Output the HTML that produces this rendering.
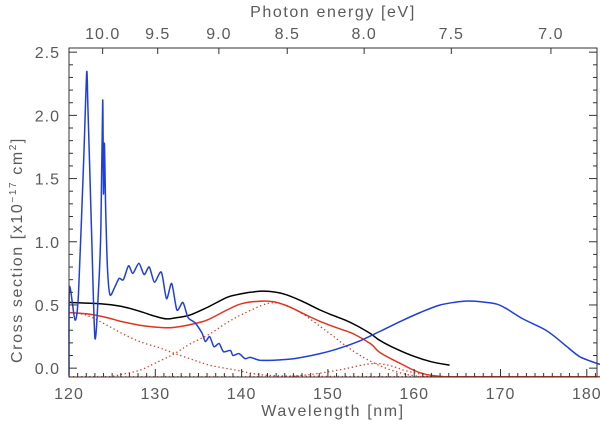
<!DOCTYPE html>
<html><head><meta charset="utf-8"><style>
html,body{margin:0;padding:0;background:#fff;}
svg text{font-family:"Liberation Sans",sans-serif;fill:#5a5a5a;}
</style></head><body>
<svg id="chart" width="600" height="431" viewBox="0 0 600 431" xmlns="http://www.w3.org/2000/svg">
<rect x="0" y="0" width="600" height="431" fill="#fff"/>
<g id="marks"></g>
<g id="axes"></g>
<text x="333" y="17" font-size="16" text-anchor="middle" letter-spacing="1.6">Photon energy [eV]</text>
<text x="333" y="416" font-size="16" text-anchor="middle" letter-spacing="1.6">Wavelength [nm]</text>
<text transform="translate(22,250) rotate(-90)" font-size="16" text-anchor="middle" letter-spacing="1.6">Cross section [x10<tspan dy="-6" font-size="10">−17</tspan><tspan dy="6"> cm</tspan><tspan dy="-6" font-size="10">2</tspan><tspan dy="6">]</tspan></text>
</svg>
<script>
const xTicks=[120,130,140,150,160,170,180];
const yTicks=[0.0,0.5,1.0,1.5,2.0,2.5];
const eTicks=[10.0,9.5,9.0,8.5,8.0,7.5,7.0];
const blackX=[120,123.6,126,128.2,130,131.3,132.5,134,136,138.3,139.4,141,142.5,144,145.2,147,149.1,150.5,152,153.5,155,156,158,159.9,162,164.1];
const blackY=[0.52,0.51,0.49,0.45,0.41,0.39,0.40,0.42,0.48,0.56,0.58,0.60,0.61,0.60,0.58,0.53,0.46,0.42,0.38,0.33,0.27,0.22,0.15,0.095,0.05,0.024];
const redX=[120,122,124.4,126,128.2,130,131.7,133,134.4,136,138.3,140,142.1,143.7,145,146,147.5,149.1,151,153,155,156,158.4,160.7,163,166,182];
const redY=[0.44,0.43,0.40,0.37,0.34,0.325,0.32,0.33,0.35,0.38,0.46,0.51,0.53,0.525,0.50,0.47,0.42,0.37,0.32,0.27,0.19,0.125,0.037,-0.037,-0.065,-0.068,-0.068];
const dot1X=[120,122,124.4,126,128.2,130.5,132.1,134.4,136.5,139.4,141.5,144,150,160,182];
const dot1Y=[0.44,0.42,0.34,0.28,0.21,0.16,0.12,0.065,0.02,-0.016,-0.045,-0.06,-0.065,-0.068,-0.068];
const dot2X=[120,124.4,126,128.2,130,132.1,134,136.3,138.3,140.2,142.9,144.5,146,147.5,149.1,150.5,152,154,156,158,160,163,182];
const dot2Y=[-0.068,-0.068,-0.05,-0.016,0.04,0.11,0.19,0.27,0.36,0.43,0.51,0.51,0.47,0.41,0.33,0.26,0.18,0.09,0.02,-0.03,-0.06,-0.068,-0.068];
const dot3X=[120,144,146,148,150,152,154,155,156,157.5,159,161,163,182];
const dot3Y=[-0.068,-0.068,-0.062,-0.05,-0.03,-0.005,0.025,0.035,0.035,0.015,-0.02,-0.05,-0.066,-0.068];
const blueX=[120,120.05,120.7,121.1,121.7,122.05,122.2,122.6,123.0,123.4,123.7,123.9,124.0,124.1,124.25,124.45,124.75,125.3,125.8,126.3,126.9,127.4,128.1,128.7,129.3,129.9,130.7,131.3,131.9,132.5,133.2,133.8,134.6,135.4,135.8,136.3,136.8,137.4,137.9,138.7,139.0,139.7,140.4,141.0,142.1,143.7,146.0,149.1,151,153.5,156.0,158.4,160.7,163.0,165.7,167.7,169.6,170.7,172.6,175.0,176.1,177.7,179.2,181.2,182];
const blueY=[-0.06,0.64,0.38,0.59,1.65,2.34,2.04,1.12,0.24,0.59,1.12,2.12,1.38,1.78,1.25,0.80,0.58,0.64,0.71,0.70,0.81,0.75,0.83,0.74,0.80,0.68,0.76,0.55,0.67,0.46,0.52,0.40,0.36,0.28,0.21,0.25,0.17,0.195,0.13,0.14,0.10,0.115,0.075,0.085,0.063,0.063,0.075,0.115,0.15,0.21,0.29,0.37,0.44,0.50,0.53,0.525,0.506,0.47,0.39,0.31,0.26,0.17,0.09,0.037,0.025];

const L=69,R=597,T=48,B=377,XMIN=120,YMIN=-0.07,YMAX=2.533;
const XPX=8.63;
const XMAX=XMIN+(R-L)/XPX;
function sx(v){return L+(v-XMIN)*XPX;}
function sy(v){return B-(v-YMIN)/(YMAX-YMIN)*(B-T);}
function eToLam(e){return 1212/e+2.7;}
const NS="http://www.w3.org/2000/svg";
const marks=document.getElementById('marks'),axes=document.getElementById('axes');
function mk(tag,attrs,parent){const e=document.createElementNS(NS,tag);for(const k in attrs)e.setAttribute(k,attrs[k]);parent.appendChild(e);return e;}
function smoothPath(pts,k){
  let d='M'+pts[0][0].toFixed(1)+','+pts[0][1].toFixed(1);
  for(let i=0;i<pts.length-1;i++){
    const p0=pts[Math.max(0,i-1)],p1=pts[i],p2=pts[i+1],p3=pts[Math.min(pts.length-1,i+2)];
    const c1=[p1[0]+(p2[0]-p0[0])*k,p1[1]+(p2[1]-p0[1])*k];
    const c2=[p2[0]-(p3[0]-p1[0])*k,p2[1]-(p3[1]-p1[1])*k];
    d+=' C'+c1[0].toFixed(1)+','+c1[1].toFixed(1)+' '+c2[0].toFixed(1)+','+c2[1].toFixed(1)+' '+p2[0].toFixed(1)+','+p2[1].toFixed(1);
  }
  return d;
}
function series(xs,ys,color,dash,name,k){
  const pts=xs.map((x,i)=>[sx(x),sy(ys[i])]);
  const el=mk('path',{d:smoothPath(pts,k),fill:'none',stroke:color,'stroke-width':dash?1.3:1.5,'stroke-linejoin':'round'},marks);
  if(dash){el.setAttribute('stroke-dasharray','1.3,2.7');}
  
  
}
series(dot1X,dot1Y,'#e0331f',true,'red-dotted-component-1',1/6);
series(dot2X,dot2Y,'#e0331f',true,'red-dotted-component-2',1/6);
series(dot3X,dot3Y,'#e0331f',true,'red-dotted-component-3',1/6);
series(blackX,blackY,'#000',false,'black-curve',1/6);
series(redX,redY,'#e0331f',false,'red-fit-curve',1/6);
series(blueX,blueY,'#1f3fdc',false,'blue-curve',1/8);

const frame=mk('rect',{x:L,y:T,width:R-L,height:B-T,fill:'none',stroke:'#333','stroke-width':1},axes);


for(let v=120;v<=XMAX;v+=1){
  const x=sx(v),major=(v%10===0);
  mk('line',{x1:x,x2:x,y1:B,y2:B-(major?8:4),stroke:'#333','stroke-width':1},axes);
}
xTicks.forEach(v=>{
  const t=mk('text',{x:sx(v),y:B+22,'font-size':16,'text-anchor':'middle','letter-spacing':1},axes);
  t.textContent=v;
  
  
});
for(let k=0;k<=25;k++){
  const v=k/10,y=sy(v),major=(k%5===0);
  mk('line',{x1:L,x2:L+(major?8:4),y1:y,y2:y,stroke:'#333','stroke-width':1},axes);
  mk('line',{x1:R,x2:R-(major?8:4),y1:y,y2:y,stroke:'#333','stroke-width':1},axes);
}
yTicks.forEach(v=>{
  const t=mk('text',{x:L-9,y:sy(v)+6,'font-size':16,'text-anchor':'end','letter-spacing':1},axes);
  t.textContent=v.toFixed(1);
  
  
});
eTicks.forEach(e=>{
  const x=sx(eToLam(e));
  mk('line',{x1:x,x2:x,y1:T,y2:T+6,stroke:'#333','stroke-width':1},axes);
  const t=mk('text',{x:x,y:T-9,'font-size':16,'text-anchor':'middle','letter-spacing':1},axes);
  t.textContent=e.toFixed(1);
  
  
});
</script>
</body></html>
